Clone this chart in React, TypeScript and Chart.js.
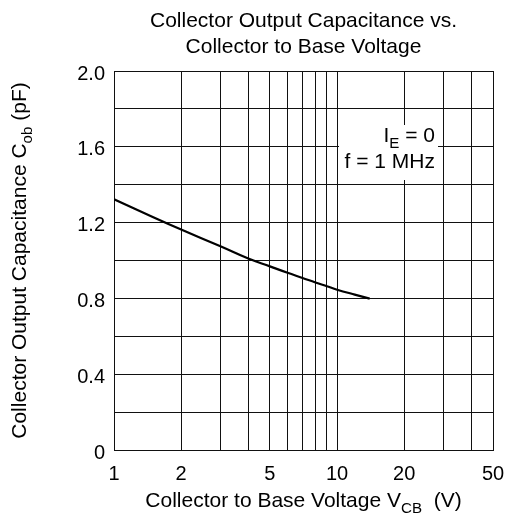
import React, { useEffect, useRef } from 'react';
import { Chart, registerables } from 'chart.js';

Chart.register(...registerables);

const titleLines = ['Collector Output Capacitance vs.', 'Collector to Base Voltage'];
const vcb = [1, 1.5, 2, 3, 4, 5, 6, 7, 8, 9, 10, 12, 14];
const cob = [1.323, 1.228, 1.163, 1.075, 1.01, 0.969, 0.935, 0.908, 0.884, 0.864, 0.846, 0.82, 0.799];
const xGridValues = [1, 2, 3, 4, 5, 6, 7, 8, 9, 10, 20, 30, 40, 50];
const xTickLabels = [1, 2, 5, 10, 20, 50];
const yTickLabels = ['0', '0.4', '0.8', '1.2', '1.6', '2.0'];

const FONT = '"Liberation Sans", Arial, Helvetica, sans-serif';

type Part = { t: string; sub?: boolean };

const xTitleParts: Part[] = [{ t: 'Collector to Base Voltage V' }, { t: 'CB', sub: true }, { t: '  (V)' }];
const yTitleParts: Part[] = [{ t: 'Collector Output Capacitance C' }, { t: 'ob', sub: true }, { t: ' (pF)' }];
const noteLine1: Part[] = [{ t: 'I' }, { t: 'E', sub: true }, { t: ' = 0' }];
const noteLine2: Part[] = [{ t: 'f = 1 MHz' }];

function drawRich(ctx: CanvasRenderingContext2D, parts: Part[], x: number, y: number, size: number, align: 'left' | 'center' | 'right') {
  const subSize = size * 0.72;
  let w = 0;
  for (const p of parts) {
    ctx.font = `${p.sub ? subSize : size}px ${FONT}`;
    w += ctx.measureText(p.t).width;
  }
  let cx = align === 'center' ? x - w / 2 : align === 'right' ? x - w : x;
  ctx.textAlign = 'left';
  ctx.textBaseline = 'alphabetic';
  for (const p of parts) {
    ctx.font = `${p.sub ? subSize : size}px ${FONT}`;
    ctx.fillText(p.t, cx, p.sub ? y + size * 0.28 : y);
    cx += ctx.measureText(p.t).width;
  }
}

const textPlugin = {
  id: 'texts',
  beforeDatasetsDraw(chart: any) {
    const ctx = chart.ctx as CanvasRenderingContext2D;
    ctx.save();
    ctx.fillStyle = '#fff';
    ctx.fillRect(339, 125, 99, 55);
    ctx.fillStyle = '#000';
    drawRich(ctx, noteLine1, 435, 142, 21, 'right');
    drawRich(ctx, noteLine2, 435, 168, 21, 'right');
    ctx.restore();
  },
  afterDraw(chart: any) {
    const ctx = chart.ctx as CanvasRenderingContext2D;
    const a = chart.chartArea;
    const cx = (a.left + a.right) / 2;
    ctx.save();
    ctx.fillStyle = '#000';
    ctx.font = `21px ${FONT}`;
    ctx.textAlign = 'center';
    ctx.textBaseline = 'alphabetic';
    ctx.fillText(titleLines[0], cx, 27);
    ctx.fillText(titleLines[1], cx, 53);
    drawRich(ctx, xTitleParts, cx, 507, 21, 'center');
    ctx.translate(26, (a.top + a.bottom) / 2);
    ctx.rotate(-Math.PI / 2);
    drawRich(ctx, yTitleParts, 0, 0, 21, 'center');
    ctx.restore();
  },
};

export default function App() {
  const ref = useRef<HTMLCanvasElement>(null);
  useEffect(() => {
    if (!ref.current) return;
    const gridColor = '#111';
    const chart = new Chart(ref.current, {
      type: 'line',
      data: {
        datasets: [
          {
            data: vcb.map((v, i) => ({ x: v, y: cob[i] })),
            borderColor: '#000',
            borderWidth: 2.2,
            pointRadius: 0,
            fill: false,
            tension: 0.4,
          },
        ],
      },
      options: {
        animation: false,
        responsive: false,
        devicePixelRatio: 1,
        layout: { padding: { top: 71, right: 12, bottom: 0, left: 0 } },
        plugins: { legend: { display: false }, title: { display: false }, tooltip: { enabled: false } },
        scales: {
          x: {
            type: 'logarithmic',
            min: 1,
            max: 50,
            afterBuildTicks: (scale: any) => {
              scale.ticks = xGridValues.map((v) => ({ value: v }));
            },
            afterFit: (scale: any) => {
              scale.height = 64;
              scale.paddingRight = 0;
              scale.paddingLeft = 0;
            },
            ticks: {
              autoSkip: false,
              maxRotation: 0,
              padding: 12,
              color: '#000',
              font: { family: FONT, size: 20 },
              callback: (v: any) => (xTickLabels.includes(Number(v)) ? String(v) : ''),
            },
            grid: { color: gridColor, lineWidth: 1, drawTicks: false },
            border: { display: true, color: gridColor, width: 1 },
          },
          y: {
            type: 'linear',
            min: 0,
            max: 2,
            afterFit: (scale: any) => {
              scale.width = 114;
            },
            ticks: {
              stepSize: 0.2,
              padding: 9,
              labelOffset: 3,
              color: '#000',
              font: { family: FONT, size: 20 },
              callback: (_v: any, i: number) => (i % 2 === 0 ? yTickLabels[i / 2] : ''),
            },
            grid: { color: gridColor, lineWidth: 1, drawTicks: false },
            border: { display: true, color: gridColor, width: 1 },
          },
        },
      },
      plugins: [textPlugin],
    } as any);
    return () => chart.destroy();
  }, []);
  return (
    <div style={{ position: 'fixed', left: 0, top: 0, width: 505, height: 514, background: '#fff' }}>
      <canvas ref={ref} width={505} height={514} style={{ display: 'block' }} />
    </div>
  );
}
